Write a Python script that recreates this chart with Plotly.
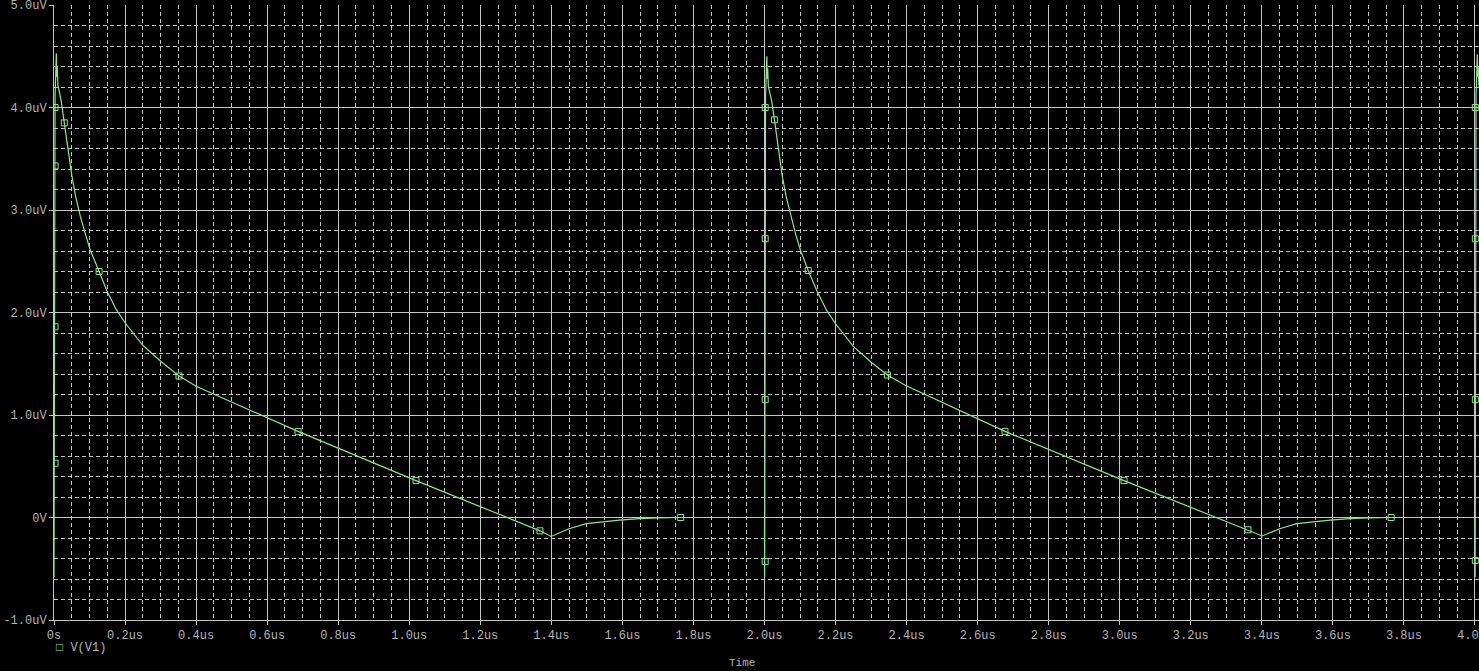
import plotly.graph_objects as go

# waveform V(V1), time in us, voltage in uV
time_us = [
    0.000, 0.003, 0.0065, 0.008, 0.009, 0.011, 0.020, 0.029, 0.039, 0.050,
    0.061, 0.074, 0.088, 0.102, 0.127, 0.149, 0.175, 0.200, 0.250, 0.302,
    0.352, 0.400, 0.687, 1.019, 1.368, 1.399, 1.450, 1.498, 1.592, 1.648,
    1.700, 1.764, 2.000,
    2.0005, 2.003, 2.0065, 2.008, 2.009, 2.011, 2.020, 2.028, 2.039, 2.050,
    2.061, 2.074, 2.088, 2.102, 2.123, 2.149, 2.175, 2.200, 2.250, 2.302,
    2.346, 2.396, 2.677, 3.012, 3.361, 3.401, 3.450, 3.498, 3.592, 3.648,
    3.700, 3.764, 4.000,
    4.0005, 4.003, 4.0065, 4.008, 4.009, 4.011, 4.020,
]
v_uv = [
    -0.58, 4.10, 4.53, 4.30, 4.40, 4.22, 4.07, 3.85, 3.59, 3.34,
    3.13, 2.94, 2.77, 2.61, 2.40, 2.21, 2.03, 1.90, 1.68, 1.52,
    1.38, 1.28, 0.84, 0.36, -0.13, -0.185, -0.11, -0.06, -0.026, -0.01,
    -0.005, 0.0, 0.0,
    -0.58, 4.10, 4.50, 4.28, 4.38, 4.20, 4.07, 3.88, 3.59, 3.33,
    3.13, 2.94, 2.76, 2.60, 2.41, 2.20, 2.02, 1.89, 1.67, 1.51,
    1.39, 1.29, 0.84, 0.36, -0.12, -0.18, -0.11, -0.06, -0.026, -0.01,
    -0.005, 0.0, 0.0,
    -0.58, 4.10, 4.52, 4.30, 4.40, 4.22, 4.07,
]

# symbol markers drawn by the probe along the trace
marker_t = [
    0.003, 0.003, 0.003, 0.003, 0.029, 0.127, 0.352, 0.687, 1.019, 1.368, 1.764,
    2.002, 2.002, 2.002, 2.002, 2.028, 2.123, 2.346, 2.677, 3.012, 3.361, 3.764,
    4.001, 4.001, 4.001, 4.001,
]
marker_v = [
    0.53, 1.86, 3.43, 4.0, 3.85, 2.40, 1.38, 0.84, 0.36, -0.13, 0.0,
    -0.43, 1.15, 2.72, 4.0, 3.88, 2.41, 1.39, 0.84, 0.36, -0.12, 0.0,
    -0.42, 1.15, 2.72, 4.0,
]

x_ticks = [0.0, 0.2, 0.4, 0.6, 0.8, 1.0, 1.2, 1.4, 1.6, 1.8, 2.0,
           2.2, 2.4, 2.6, 2.8, 3.0, 3.2, 3.4, 3.6, 3.8, 4.0]
x_labels = ["0s", "0.2us", "0.4us", "0.6us", "0.8us", "1.0us", "1.2us",
            "1.4us", "1.6us", "1.8us", "2.0us", "2.2us", "2.4us", "2.6us",
            "2.8us", "3.0us", "3.2us", "3.4us", "3.6us", "3.8us", "4.0us"]
y_ticks = [-1, 0, 1, 2, 3, 4, 5]
y_labels = ["-1.0uV", "0V", "1.0uV", "2.0uV", "3.0uV", "4.0uV", "5.0uV"]

GREEN = "#8ae88a"
GRID = "#c4c4c4"
TEXT = "#b4b4b4"
FONT = "Liberation Mono"

fig = go.Figure()

fig.add_trace(go.Scatter(
    x=time_us, y=v_uv, mode="lines",
    line=dict(color=GREEN, width=1.2),
    showlegend=False, hoverinfo="skip",
))

fig.add_trace(go.Scatter(
    x=marker_t, y=marker_v, mode="markers",
    marker=dict(symbol="square-open", size=6, color=GREEN,
                line=dict(color=GREEN, width=1)),
    showlegend=False,
))

fig.update_layout(
    width=1479, height=671,
    margin=dict(l=54, r=0, t=5, b=51),
    paper_bgcolor="black", plot_bgcolor="black",
    font=dict(family=FONT, size=12, color=TEXT),
    showlegend=False,
    annotations=[
        dict(text="Time", x=0.4828, y=-0.0699, xref="paper", yref="paper",
             showarrow=False, xanchor="center", yanchor="middle",
             font=dict(family=FONT, size=11, color=TEXT)),
        dict(text=f"<span style='color:{GREEN}'>□</span> V(V1)",
             x=0.0, y=-0.0455, xref="paper", yref="paper",
             showarrow=False, xanchor="left", yanchor="middle",
             font=dict(family=FONT, size=12, color=TEXT)),
    ],
)

fig.update_xaxes(
    range=[0, 4.0113], tickvals=x_ticks, ticktext=x_labels,
    ticklabeloverflow="allow", automargin=False,
    tickfont=dict(family=FONT, size=12, color=TEXT),
    showgrid=True, gridcolor=GRID, gridwidth=1,
    minor=dict(dtick=0.05, showgrid=True, gridcolor=GRID,
               griddash="4px,3px", gridwidth=1),
    showline=True, linecolor=GRID, linewidth=1,
    ticks="outside", ticklen=4, tickcolor=GRID,
    zeroline=False,
)

fig.update_yaxes(
    range=[-1, 5], tickvals=y_ticks, ticktext=y_labels,
    ticklabeloverflow="allow", automargin=False,
    tickfont=dict(family=FONT, size=12, color=TEXT),
    showgrid=True, gridcolor=GRID, gridwidth=1,
    minor=dict(dtick=0.2, showgrid=True, gridcolor=GRID,
               griddash="4px,3px", gridwidth=1),
    showline=True, linecolor=GRID, linewidth=1,
    ticks="outside", ticklen=4, tickcolor=GRID,
    zeroline=True, zerolinecolor=GRID, zerolinewidth=1,
)

# page body has a default 8px margin; remove it so the figure fills the window
fig.write_html(
    "out.html",
    config={"displayModeBar": False},
    post_script="document.body.style.margin='0';"
                "document.body.style.background='black';"
                "document.body.style.overflow='hidden';",
)
